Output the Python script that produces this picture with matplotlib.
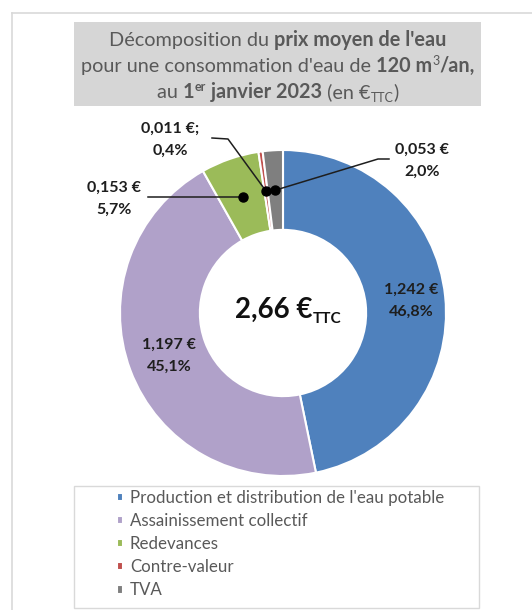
import matplotlib
matplotlib.use("Agg")
import matplotlib.pyplot as plt
import numpy as np
from matplotlib.patches import Rectangle
from matplotlib.lines import Line2D

# ---------------- data ----------------
categories = ["Production et distribution de l'eau potable",
              "Assainissement collectif",
              "Redevances",
              "Contre-valeur",
              "TVA"]
values_eur = [1.242, 1.197, 0.153, 0.011, 0.053]
value_labels = ["1,242 €", "1,197 €", "0,153 €", "0,011 €;", "0,053 €"]
pct_labels = ["46,8%", "45,1%", "5,7%", "0,4%", "2,0%"]
total_label = "2,66 €"
colors = ["#4f81bd", "#b0a1c9", "#9bbb59", "#c0504d", "#7f7f7f"]

FONT = "Lato"
W, H = 532, 610
DPI = 100
fig = plt.figure(figsize=(W / DPI, H / DPI), dpi=DPI)
fig.patch.set_facecolor("white")

def fx(px):
    return px / W

def fy(py):
    return 1 - py / H

# outer frame
fig.add_artist(Line2D([fx(12), fx(12)], [fy(13), fy(612)], color="#d9d9d9", lw=1.2))
fig.add_artist(Line2D([fx(12), fx(540)], [fy(13), fy(13)], color="#d9d9d9", lw=1.2))

# title box
fig.add_artist(Rectangle((fx(74), fy(106)), fx(481) - fx(74), fy(22) - fy(106),
                         transform=fig.transFigure, facecolor="#d6d6d6",
                         edgecolor="none", zorder=0))

renderer = fig.canvas.get_renderer()

def text_width(s, size, weight):
    t1 = fig.text(0, 0, s + "|", fontsize=size, fontweight=weight, family=FONT)
    t2 = fig.text(0, 0, "|", fontsize=size, fontweight=weight, family=FONT)
    w = t1.get_window_extent(renderer).width - t2.get_window_extent(renderer).width
    t1.remove(); t2.remove()
    return w

def draw_rich_line(cx, baseline_py, segments, color):
    # segments: (text, size, weight, dy_px)
    widths = [text_width(s, sz, wt) for s, sz, wt, dy in segments]
    x = cx - sum(widths) / 2
    for (s, sz, wt, dy), w in zip(segments, widths):
        fig.text(fx(x), fy(baseline_py - dy), s, fontsize=sz, fontweight=wt,
                 family=FONT, color=color, va="baseline", ha="left")
        x += w

TS = 14.3
SS = 9
tc = "#595959"
draw_rich_line(278, 46, [("Décomposition du ", TS, "normal", 0),
                         ("prix moyen de l'eau", TS, "bold", 0)], tc)
draw_rich_line(278, 72, [("pour une consommation d'eau de ", TS, "normal", 0),
                         ("120 m", TS, "bold", 0),
                         ("3", SS, "normal", 7),
                         ("/an,", TS, "bold", 0)], tc)
draw_rich_line(278, 98, [("au ", TS, "normal", 0),
                         ("1", TS, "bold", 0),
                         ("er", SS, "bold", 7),
                         (" janvier 2023", TS, "bold", 0),
                         (" (en €", TS, "normal", 0),
                         ("TTC", SS, "normal", -4),
                         (")", TS, "normal", 0)], tc)

# ---------------- donut ----------------
CX, CY, R = 283, 313, 163
ax = fig.add_axes([fx(CX - R), fy(CY + R), (2 * R) / W, (2 * R) / H])
wedges, _ = ax.pie(values_eur, colors=colors, startangle=90, counterclock=False,
                   radius=1, wedgeprops=dict(width=0.49, edgecolor="white", linewidth=1.5))
ax.set_xlim(-1, 1)
ax.set_ylim(-1, 1)
ax.set_aspect("equal")
ax.axis("off")

def d(px, py):
    return ((px - CX) / R, (CY - py) / R)

lab_color = "#1e1e1e"
LS = 11.5
# label block centres (pixel)
label_pos = [(411, 301), (169, 356), (114, 199), (170, 140), (422, 161)]
for i in range(len(values_eur)):
    x, y = d(*label_pos[i])
    ax.text(x, y, value_labels[i] + "\n" + pct_labels[i], ha="center", va="center",
            fontsize=LS, fontweight="bold", family=FONT, color=lab_color,
            linespacing=1.75)

rmid = 1 - 0.49 / 2
def dot_of(i):
    w = wedges[i]
    ang = np.deg2rad((w.theta1 + w.theta2) / 2)
    return rmid * np.cos(ang), rmid * np.sin(ang)

# leader lines for small slices
leaders = {2: [d(148, 0)], 3: [d(212, 138), d(228, 139)], 4: [d(389, 159), d(378, 159)]}
for i, pts in leaders.items():
    dx, dy = dot_of(i)
    if i == 2:
        pts = [(pts[0][0], dy)]
    xs = [p[0] for p in pts] + [dx]
    ys = [p[1] for p in pts] + [dy]
    ax.plot(xs, ys, color="#1e1e1e", lw=1.1, zorder=5, clip_on=False)
    ax.plot([dx], [dy], "o", color="black", ms=6.5, zorder=6)

# centre total
draw_rich_line(288, 318, [(total_label, 20, "bold", 0), ("TTC", 11, "bold", -5)], "#111111")

# ---------------- legend ----------------
fig.add_artist(Rectangle((fx(74), fy(608)), fx(479) - fx(74), fy(486) - fy(608),
                         transform=fig.transFigure, facecolor="none",
                         edgecolor="#d9d9d9", lw=1.0))
fig.legend(wedges, categories, loc="upper left", bbox_to_anchor=(fx(117), fy(490)),
           bbox_transform=fig.transFigure, frameon=False,
           labelcolor="#595959", handlelength=0.38, handleheight=0.38,
           handletextpad=0.38, labelspacing=0.42, borderpad=0, borderaxespad=0,
           prop={"family": FONT, "size": 12.2})

fig.savefig("out.png", dpi=DPI)
